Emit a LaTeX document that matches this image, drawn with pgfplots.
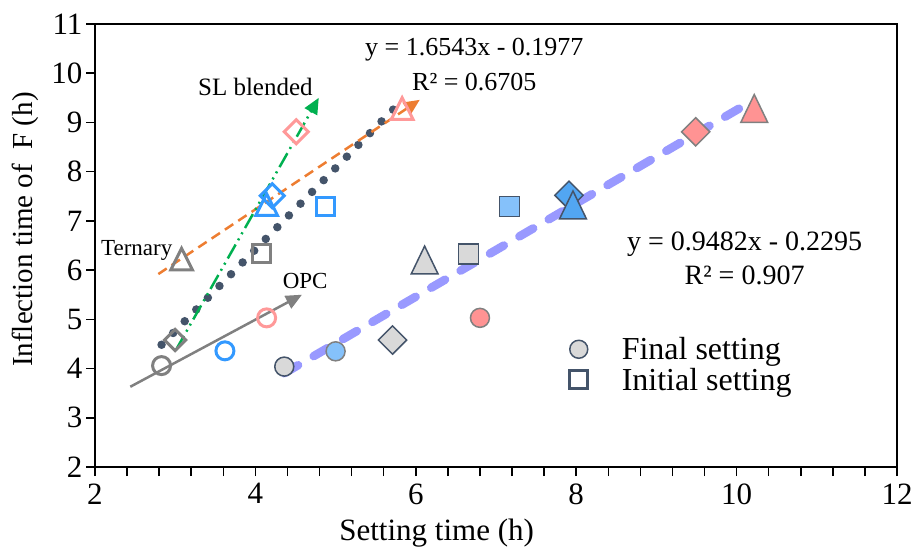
\documentclass[border=0pt]{standalone}
\usepackage{fontspec}
\setmainfont{Liberation Serif}
\usepackage{pgfplots}
\pgfplotsset{compat=1.18}
\usetikzlibrary{arrows.meta}

\definecolor{slate}{HTML}{44546A}
\definecolor{lgray}{HTML}{D9D9D9}
\definecolor{mgray}{HTML}{808080}
\definecolor{hblue}{HTML}{3399FF}
\definecolor{fblue}{HTML}{85C1FA}
\definecolor{dblue}{HTML}{52A6F2}
\definecolor{hpink}{HTML}{FF9999}
\definecolor{fpink}{HTML}{FF9393}
\definecolor{lav}{HTML}{9999FF}
\definecolor{orng}{HTML}{ED7D31}
\definecolor{grn}{HTML}{00B050}

\newcommand{\fs}[1]{\fontsize{#1}{#1}\selectfont}

\pgfplotsset{
  hollow/.style={only marks, mark options={draw=#1, line width=3pt, solid}},
  filled/.style 2 args={only marks, mark options={draw=#1, fill=#2, line width=1.5pt, solid}},
  diam/.style={every mark/.append style={rotate=45}},
  tri/.style={every mark/.append style={yscale=#1}},
}

\begin{document}
\begin{tikzpicture}
\begin{axis}[
  scale only axis, width=802pt, height=443pt,
  xmin=2, xmax=12, ymin=2, ymax=11,
  xtick={2,4,...,12}, ytick={2,...,11},
  minor x tick num=4,
  tick align=outside, tick pos=left,
  major tick length=9pt, minor tick length=9pt,
  every tick/.style={black, line width=1.5pt},
  axis line style={black, line width=2pt},
  ticklabel style={font=\fs{31}},
  xticklabel style={yshift=-4pt},
  /pgf/number format/assume math mode=true,
  xlabel={Setting time (h)},
  ylabel={Inflection time of\ \ F (h)},
  xlabel style={font=\fs{31}, at={(axis description cs:0.426,-0.149)}, anchor=center},
  ylabel style={font=\fs{29}, at={(axis description cs:-0.0873,0.536)}, anchor=center, rotate=0},
  clip=false,
  legend style={at={(axis description cs:0.588,0.302)}, anchor=north west, draw=none, fill=none,
    font=\fs{32}, row sep=3pt, cells={anchor=west}},
]
\coordinate (SW) at (rel axis cs:0,0);
\coordinate (NE) at (rel axis cs:1,1);

\addlegendimage{only marks, mark=*, mark size=9pt, mark options={draw=slate, fill=lgray, line width=1.5pt}}
\addlegendentry{\hspace{32pt}Final setting}
\addlegendimage{only marks, mark=square, mark size=9pt, mark options={draw=slate, line width=3pt}}
\addlegendentry{\hspace{32pt}Initial setting}

% initial setting (hollow)
\addplot[hollow=mgray, mark=o, mark size=9pt] coordinates {(2.83,4.06)};
\addplot[hollow=hblue, mark=o, mark size=9pt] coordinates {(3.62,4.36)};
\addplot[hollow=hpink, mark=o, mark size=9pt] coordinates {(4.14,5.03)};
\addplot[hollow=mgray, diam, mark=square, mark size=7.5pt] coordinates {(3.00,4.58)};
\addplot[hollow=hblue, diam, mark=square, mark size=8.5pt] coordinates {(4.21,7.51)};
\addplot[hollow=hpink, diam, mark=square, mark size=8.5pt] coordinates {(4.51,8.81)};
\addplot[hollow=mgray, tri=1.15, mark=triangle, mark size=12.5pt] coordinates {(3.08,6.15)};
\addplot[hollow=hblue, tri=1.15, mark=triangle, mark size=12.5pt] coordinates {(4.14,7.26)};
\addplot[hollow=hpink, tri=1.15, mark=triangle, mark size=12.5pt] coordinates {(5.83,9.21)};
\addplot[hollow=mgray, mark=square, mark size=9pt] coordinates {(4.07,6.33)};
\addplot[hollow=hblue, mark=square, mark size=9pt] coordinates {(4.87,7.29)};

% final setting (filled)
\addplot[filled={slate}{lgray}, mark=*, mark size=9.5pt] coordinates {(4.36,4.04)};
\addplot[filled={mgray}{fblue}, mark=*, mark size=9.5pt] coordinates {(5.00,4.35)};
\addplot[filled={mgray}{fpink}, mark=*, mark size=9.5pt] coordinates {(6.80,5.03)};
\addplot[filled={slate}{lgray}, diam, mark=square*, mark size=10pt] coordinates {(5.71,4.58)};
\addplot[filled={slate}{dblue}, diam, mark=square*, mark size=10pt] coordinates {(7.91,7.52)};
\addplot[filled={mgray}{fpink}, diam, mark=square*, mark size=10pt] coordinates {(9.49,8.81)};
\addplot[filled={slate}{lgray}, tri=1.2, mark=triangle*, mark size=15.5pt] coordinates {(6.11,6.11)};
\addplot[filled={slate}{dblue}, tri=1.2, mark=triangle*, mark size=15.5pt] coordinates {(7.96,7.23)};
\addplot[filled={mgray}{fpink}, tri=1.2, mark=triangle*, mark size=15.5pt] coordinates {(10.22,9.19)};
\addplot[filled={slate}{lgray}, mark=square*, mark size=10pt] coordinates {(6.66,6.33)};
\addplot[filled={slate}{fblue}, mark=square*, mark size=10pt] coordinates {(7.17,7.29)};

% trend lines and guide arrows
\addplot[slate, line width=8.5pt, line cap=round, dash pattern=on 0pt off 16.5pt] coordinates {(2.83,4.4838) (5.83,9.4469)};
\addplot[lav, line width=8.5pt, line cap=round, dash pattern=on 16pt off 18pt] coordinates {(4.36,3.9046) (10.22,9.4611)};
\addplot[mgray, line width=2.5pt, -{Triangle[length=16pt,width=14pt]}] coordinates {(2.44,3.63) (4.58,5.50)};
\addplot[orng, line width=2.5pt, dash pattern=on 10pt off 6pt, -{Triangle[length=16pt,width=14pt]}] coordinates {(2.79,5.92) (6.05,9.46)};
\addplot[grn, line width=2.5pt, dash pattern=on 16pt off 5pt on 2pt off 5pt on 2pt off 5pt, -{Triangle[length=16pt,width=14pt]}] coordinates {(3.01,4.38) (4.79,9.50)};

% labels
\node[font=\fs{25}] at (axis cs:4.00,9.72) {SL blended};
\node[font=\fs{23}] at (axis cs:2.52,6.39) {Ternary};
\node[font=\fs{23}] at (axis cs:4.62,5.78) {OPC};
\node[font=\fs{26}] at (axis cs:6.73,10.48) {y = 1.6543x - 0.1977};
\node[font=\fs{26}] at (axis cs:6.73,9.83) {R² = 0.6705};
\node[font=\fs{28}] at (axis cs:10.10,6.53) {y = 0.9482x - 0.2295};
\node[font=\fs{28}] at (axis cs:10.10,5.90) {R² = 0.907};
\end{axis}
\pgfresetboundingbox
\path[use as bounding box] ([shift={(-95pt,-84pt)}]SW) rectangle ([shift={(17pt,24pt)}]NE);
\end{tikzpicture}
\end{document}
